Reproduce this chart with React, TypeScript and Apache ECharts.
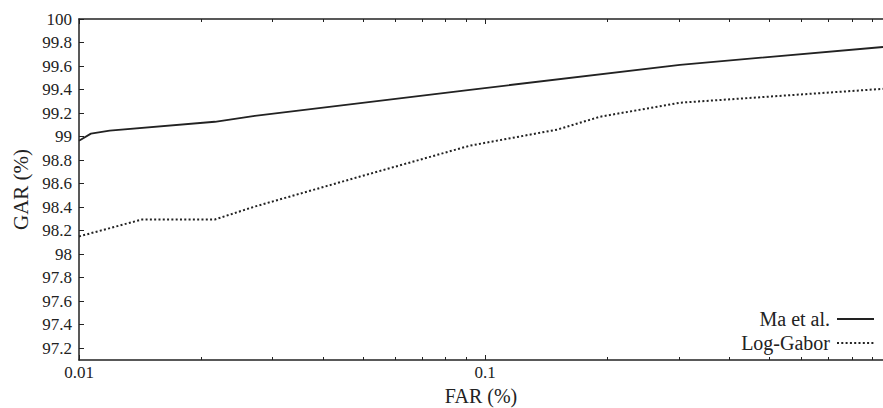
import React, { useEffect, useRef } from "react";
import * as echarts from "echarts";

// FAR (%) on log scale, GAR (%) values
const maFar = [0.01, 0.0107, 0.0119, 0.0216, 0.0271, 0.0918, 0.302, 0.955];
const maGar = [98.965, 99.025, 99.05, 99.126, 99.177, 99.398, 99.61, 99.762];

const lgFar = [0.01, 0.0143, 0.0216, 0.0271, 0.0492, 0.0918, 0.1504, 0.192, 0.302, 0.955];
const lgGar = [98.151, 98.295, 98.295, 98.405, 98.66, 98.923, 99.059, 99.169, 99.288, 99.406];

const xMajorTicks = [0.01, 0.1];
const xTickLabels = ["0.01", "0.1"];
const xMinorTicks = [0.02, 0.03, 0.04, 0.05, 0.06, 0.07, 0.08, 0.09, 0.2, 0.3, 0.4, 0.5, 0.6, 0.7, 0.8, 0.9];
const yTicks = [97.2, 97.4, 97.6, 97.8, 98, 98.2, 98.4, 98.6, 98.8, 99, 99.2, 99.4, 99.6, 99.8, 100];

const X_MIN = 0.01;
const X_MAX = 0.955;
const Y_MIN = 97.1;
const Y_MAX = 100;

const FONT = "Liberation Serif";
const INK = "#222";

export default function App() {
  const ref = useRef<HTMLDivElement>(null);
  useEffect(() => {
    if (!ref.current) return;
    const chart = echarts.init(ref.current, null, { renderer: "svg" });
    const lx = (v: number) => Math.log10(v);
    const xMin = lx(X_MIN);
    const xMax = lx(X_MAX);
    const majors = xMajorTicks.map(lx);
    const minors = xMinorTicks.map(lx);
    const baseX = {
      type: "value" as const,
      min: xMin,
      max: xMax,
      splitLine: { show: false },
      gridIndex: 0,
    };
    const legendCommon = {
      orient: "vertical",
      align: "right",
      right: 8,
      padding: 0,
      itemWidth: 37,
      itemHeight: 14,
      itemGap: 0,
      selectedMode: false,
      itemStyle: { color: "transparent", borderWidth: 0, opacity: 0 },
      textStyle: { fontFamily: FONT, fontSize: 20, color: INK, padding: [0, 2, 0, 0] },
    };
    const option: any = {
      animation: false,
      backgroundColor: "#fff",
      textStyle: { fontFamily: FONT, color: INK },
      grid: { left: 79, right: 0, top: 19, bottom: 48, containLabel: false, outerBoundsMode: "none" },
      xAxis: [
        {
          ...baseX,
          position: "bottom",
          name: "FAR (%)",
          nameLocation: "middle",
          nameGap: 26,
          nameTextStyle: { fontFamily: FONT, fontSize: 20, color: INK },
          axisLine: { show: true, lineStyle: { color: INK, width: 1.5 } },
          axisTick: { show: true, inside: true, length: 5, customValues: majors, lineStyle: { color: INK, width: 1 } },
          axisLabel: {
            show: true,
            customValues: majors,
            margin: 4,
            fontFamily: FONT,
            fontSize: 17,
            color: INK,
            formatter: (v: number) => {
              let best = 0;
              majors.forEach((m, i) => {
                if (Math.abs(m - v) < Math.abs(majors[best] - v)) best = i;
              });
              return xTickLabels[best];
            },
          },
        },
        {
          ...baseX,
          position: "bottom",
          axisLine: { show: false },
          axisTick: { show: true, inside: true, length: 3, customValues: minors, lineStyle: { color: INK, width: 1 } },
          axisLabel: { show: false },
        },
        {
          ...baseX,
          position: "top",
          axisLine: { show: true, lineStyle: { color: INK, width: 1.5 } },
          axisTick: { show: true, inside: true, length: 5, customValues: majors, lineStyle: { color: INK, width: 1 } },
          axisLabel: { show: false },
        },
        {
          ...baseX,
          position: "top",
          axisLine: { show: false },
          axisTick: { show: true, inside: true, length: 3, customValues: minors, lineStyle: { color: INK, width: 1 } },
          axisLabel: { show: false },
        },
      ],
      yAxis: {
        type: "value",
        min: Y_MIN,
        max: Y_MAX,
        name: "GAR (%)",
        nameLocation: "middle",
        nameGap: 46,
        nameTextStyle: { fontFamily: FONT, fontSize: 21, color: INK },
        splitLine: { show: false },
        axisLine: { show: true, lineStyle: { color: INK, width: 1.5 } },
        axisTick: { show: true, inside: true, length: 5, customValues: yTicks, lineStyle: { color: INK, width: 1 } },
        axisLabel: {
          show: true,
          customValues: yTicks,
          margin: 7,
          fontFamily: FONT,
          fontSize: 17,
          color: INK,
          formatter: (v: number) => String(Math.round(v * 10) / 10),
        },
      },
      legend: [
        { ...legendCommon, data: ["Ma et al."], top: 309 },
        { ...legendCommon, data: ["Log-Gabor"], top: 333 },
      ],
      series: [
        {
          name: "Ma et al.",
          type: "line",
          xAxisIndex: 0,
          symbol: "none",
          smooth: false,
          lineStyle: { color: INK, width: 1.8, type: "solid" },
          itemStyle: { color: INK },
          data: maFar.map((f, i) => [lx(f), maGar[i]]),
        },
        {
          name: "Log-Gabor",
          type: "line",
          xAxisIndex: 0,
          symbol: "none",
          smooth: false,
          lineStyle: { color: INK, width: 2, type: [2, 2.3] },
          itemStyle: { color: INK },
          data: lgFar.map((f, i) => [lx(f), lgGar[i]]),
        },
      ],
    };
    chart.setOption(option);
    return () => chart.dispose();
  }, []);
  return (
    <div
      ref={ref}
      style={{ position: "fixed", left: 0, top: 0, width: 883, height: 408, background: "#fff" }}
    />
  );
}
